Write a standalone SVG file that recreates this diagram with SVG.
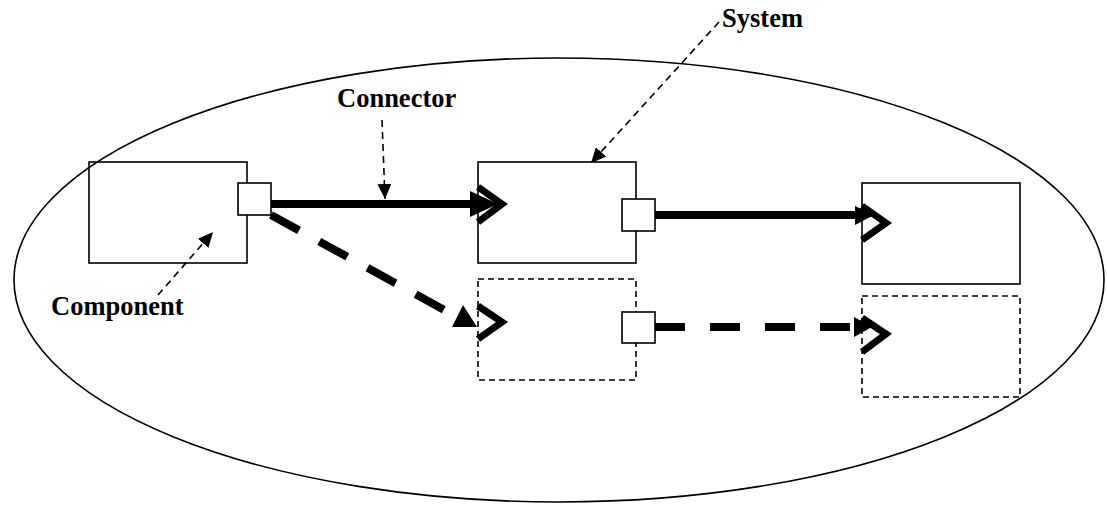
<svg xmlns="http://www.w3.org/2000/svg" width="1107" height="505" viewBox="0 0 1107 505">
  <style>
    .box { fill: none; stroke: #000; stroke-width: 1.6; }
    .box-dash { fill: none; stroke: #000; stroke-width: 1.6; stroke-dasharray: 6 4; }
    .port { fill: #fff; stroke: #000; stroke-width: 1.6; }
    .wire { fill: none; stroke: #000; stroke-width: 8; }
    .chev { fill: none; stroke: #000; stroke-width: 7; stroke-linejoin: miter; }
    .head { fill: #000; stroke: none; }
    .leader { fill: none; stroke: #000; stroke-width: 1.6; stroke-dasharray: 7 5; }
    .label { font-family: "Liberation Serif", "Times New Roman", serif; font-weight: bold; font-size: 26.5px; fill: #000; }
  </style>
  <defs>
    <marker id="tri" markerUnits="userSpaceOnUse" markerWidth="16" markerHeight="14" refX="15" refY="7" orient="auto">
      <path d="M0,0 L15,7 L0,14 Z" fill="#000"/>
    </marker>
  </defs>

  <!-- system boundary -->
  <ellipse id="system-boundary" cx="559" cy="280" rx="545" ry="222" fill="none" stroke="#000" stroke-width="1.6"/>

  <!-- components -->
  <g id="comp-a">
    <rect class="box" x="89" y="162" width="158" height="101"/>
    <rect class="port" x="238" y="183" width="33" height="32"/>
  </g>
  <g id="comp-b">
    <rect class="box" x="478" y="162" width="158" height="101"/>
    <rect class="port" x="622" y="199" width="33" height="32"/>
  </g>
  <g id="comp-b-alt">
    <rect class="box-dash" x="478" y="279" width="158" height="101"/>
    <rect class="port" x="622" y="312" width="33" height="31"/>
  </g>
  <g id="comp-c">
    <rect class="box" x="862" y="183" width="158" height="101"/>
  </g>
  <g id="comp-c-alt">
    <rect class="box-dash" x="862" y="296" width="158" height="101"/>
  </g>

  <!-- connectors -->
  <g id="connectors">
    <!-- A to B -->
    <line class="wire" x1="271" y1="204" x2="472" y2="204"/>
    <path class="head" d="M470,191 L498,204 L470,217 Z"/>
    <polyline class="chev" points="478,187 502,204 478,222"/>

    <!-- B to C -->
    <line class="wire" x1="655" y1="215" x2="857" y2="215"/>
    <path class="head" d="M855,206 L874,215 L855,225 Z"/>
    <polyline class="chev" points="862,206 886,223 862,240"/>

    <!-- A to B' (optional) -->
    <line class="wire" x1="271" y1="215" x2="448" y2="312" stroke-dasharray="32 23"/>
    <path class="head" d="M463,305 L452,327 L477,327 Z"/>
    <polyline class="chev" points="478,306 502,322 478,339"/>

    <!-- B' to C' (optional) -->
    <line class="wire" x1="655" y1="327" x2="857" y2="327" stroke-dasharray="30 25"/>
    <path class="head" d="M854,317 L872,327 L854,337 Z"/>
    <polyline class="chev" points="862,318 886,334 862,352"/>
  </g>

  <!-- labels -->
  <g id="label-system">
    <text class="label" x="722" y="27">System</text>
    <line class="leader" x1="719" y1="22" x2="591" y2="163" marker-end="url(#tri)"/>
  </g>
  <g id="label-connector">
    <text class="label" x="337" y="107">Connector</text>
    <line class="leader" x1="382" y1="120" x2="385" y2="199" marker-end="url(#tri)"/>
  </g>
  <g id="label-component">
    <text class="label" x="51" y="315">Component</text>
    <line class="leader" x1="158" y1="295" x2="213" y2="232" marker-end="url(#tri)"/>
  </g>
</svg>
